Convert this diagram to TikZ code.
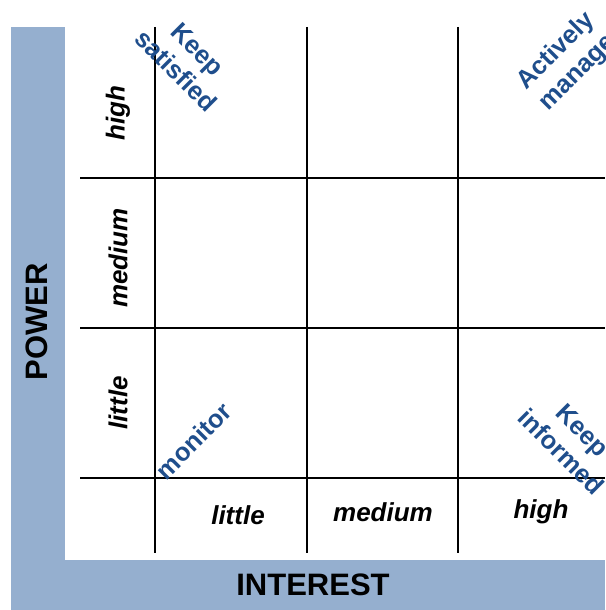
\documentclass[tikz,border=0pt]{standalone}
\usepackage{fontspec}
\setmainfont{Liberation Sans}
\usepackage{tikz}

\definecolor{bandblue}{HTML}{95AFCF}
\definecolor{textblue}{HTML}{1F4E8C}

\tikzset{
  axislabel/.style={font=\fontsize{31}{31}\selectfont\bfseries},
  levellabel/.style={font=\fontsize{26}{26}\selectfont\bfseries\itshape},
  quadlabel/.style={font=\fontsize{25.5}{30}\selectfont\bfseries, text=textblue, align=center}
}

\begin{document}
\begin{tikzpicture}[x=1pt, y=-1pt]
    \useasboundingbox (0, 0) rectangle (605, 610);
    \clip (0, 0) rectangle (605, 610);

    \fill[bandblue](11, 27) rectangle (65, 610);
    \fill[bandblue](11, 560) rectangle (605, 610);

    \draw[line width=2pt](155, 27)--(155, 553);
    \draw[line width=2pt](307, 27)--(307, 553);
    \draw[line width=2pt](458, 27)--(458, 553);

    \draw[line width=2pt](80, 178)--(605, 178);
    \draw[line width=2pt](80, 328)--(605, 328);
    \draw[line width=2pt](80, 478)--(605, 478);

    \node[axislabel, rotate=90] (power) at(37, 322){POWER};
    \node[axislabel] (interest) at(313, 585){INTEREST};

    \node[levellabel, rotate=90] (powhigh) at(118, 113){high};
    \node[levellabel, rotate=90] (powmed) at(118, 258){medium};
    \node[levellabel, rotate=90] (powlow) at(118, 403){little};

    \node[levellabel] (intlow) at(238, 515){little};
    \node[levellabel] (intmed) at(383, 512){medium};
    \node[levellabel] (inthigh) at(541, 512){high};

    \node[quadlabel, rotate=-45] (satisfied) at(187, 60){Keep\\satisfied};
    \node[quadlabel, rotate=45] (manage) at(567, 62){Actively\\manage};
    \node[quadlabel, rotate=45] (monitor) at(194, 441){monitor};
    \node[quadlabel, rotate=-45] (informed) at(572, 441){Keep\\informed};

  \end{tikzpicture}
\end{document}
